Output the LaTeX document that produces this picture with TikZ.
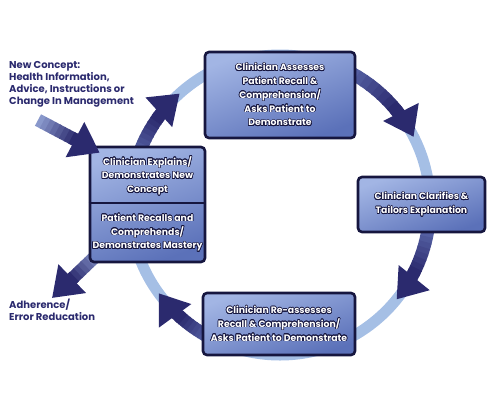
\documentclass[tikz,border=0pt]{standalone}
\usepackage{fontspec}
\setmainfont{Poppins}
\usepackage{contour}
\contourlength{0.6pt}
\usetikzlibrary{arrows.meta,calc,backgrounds}

\definecolor{navy}{HTML}{2B2A6E}
\definecolor{midblue}{HTML}{6676B8}
\definecolor{paleblue}{HTML}{93A4D6}
\definecolor{ringblue}{HTML}{A5BFE5}
\definecolor{boxlight}{HTML}{A2B5E4}
\definecolor{boxdark}{HTML}{5B71B9}
\definecolor{frame}{HTML}{16163F}

\newcommand{\wt}[1]{\contour{frame}{#1}}

% clockwise arrow on the ring, from angle #1 to angle #2
\newcommand{\ringarrow}[2]{%
  \foreach \k in {0,...,7}{
    \pgfmathsetmacro{\ka}{#1+(#2+12-#1)*\k/8}
    \pgfmathsetmacro{\kb}{#1+(#2+12-#1)*(\k+1.2)/8}
    \pgfmathtruncatemacro{\kc}{30+70*\k/7}
    \draw[shaft, navy!\kc!midblue] (ring) ++(\ka:150pt) arc[start angle=\ka, end angle=\kb, radius=150pt];
  }
  \draw[shaft, navy, -{Triangle[width=38pt,length=28pt]}] (ring) ++(#2+13:150pt) arc[start angle=#2+13, end angle=#2, radius=150pt];
}

% straight arrow from #1 to #2
\newcommand{\linearrow}[2]{%
  \foreach \k in {0,...,7}{
    \pgfmathtruncatemacro{\kc}{10+90*\k/7}
    \pgfmathsetmacro{\ka}{\k/8*0.62}
    \pgfmathsetmacro{\kb}{(\k+1.2)/8*0.62}
    \draw[shaft, navy!\kc!paleblue] ($(#1)!\ka!(#2)$) -- ($(#1)!\kb!(#2)$);
  }
  \draw[shaft, navy, -{Triangle[width=38pt,length=28pt]}] ($(#1)!0.55!(#2)$) -- (#2);
}

\begin{document}
\begin{tikzpicture}[x=1pt, y=-1pt,
    box/.style={draw=frame, line width=2.6pt, rounded corners=4pt,
      top color=boxlight, bottom color=boxdark, shading angle=20, inner sep=0pt},
    boxlabel/.style={text=white, font=\bfseries\fontsize{9.3}{13.8}\selectfont, align=center},
    outer/.style={text=navy, font=\bfseries\fontsize{10}{12}\selectfont, align=left, anchor=north west, inner sep=0pt},
    shaft/.style={line width=13pt}]
  \useasboundingbox (0,0) rectangle (496,400);
  \coordinate (ring) at (280,205);

  \node[box, minimum width=150pt, minimum height=86pt] (assess) at (280,95) {};
  \node[boxlabel] at (assess) {\wt{Clinician Assesses}\\\wt{Patient Recall \&}\\\wt{Comprehension/}\\\wt{Asks Patient to}\\\wt{Demonstrate}};

  \node[box, minimum width=115pt, minimum height=115pt] (teachbox) at (147.5,204.5) {};
  \draw[frame, line width=1.6pt] (teachbox.west |- 0,203) -- (teachbox.east |- 0,203);
  \node[boxlabel] (explain) at (147.5,176) {\wt{Clinician Explains/}\\\wt{Demonstrates New}\\\wt{Concept}};
  \node[boxlabel] (recall) at (147.5,233) {\wt{Patient Recalls and}\\\wt{Comprehends/}\\\wt{Demonstrates Mastery}};

  \node[box, minimum width=127pt, minimum height=55pt] (clarify) at (421.5,204.5) {};
  \node[boxlabel] at (clarify) {\wt{Clinician Clarifies \&}\\\wt{Tailors Explanation}};

  \node[box, minimum width=152pt, minimum height=62pt] (reassess) at (279,324) {};
  \node[boxlabel] at (reassess) {\wt{Clinician Re-assesses}\\\wt{Recall \& Comprehension/}\\\wt{Asks Patient to Demonstrate}};

  \node[outer] (concept) at (9,61) {New Concept:\\Health Information,\\Advice, Instructions or\\Change In Management};
  \node[outer] (adherence) at (9,299) {Adherence/\\Error Reducation};

  \coordinate (nc-tail) at (38,120);
  \coordinate (nc-head) at ($(teachbox.north west)+(11,7)$);
  \coordinate (ad-tail) at ($(teachbox.south west)+(12,-12)$);
  \coordinate (ad-head) at (52,298);

  \begin{scope}[on background layer]
    \draw[ringblue, line width=11pt] (ring) circle[radius=150pt];
    \ringarrow{160}{132}
    \ringarrow{62}{27}
    \ringarrow{-10}{-39}
    \ringarrow{-118}{-144}
    \linearrow{ad-tail}{ad-head}
  \end{scope}
  \linearrow{nc-tail}{nc-head}
\end{tikzpicture}
\end{document}
